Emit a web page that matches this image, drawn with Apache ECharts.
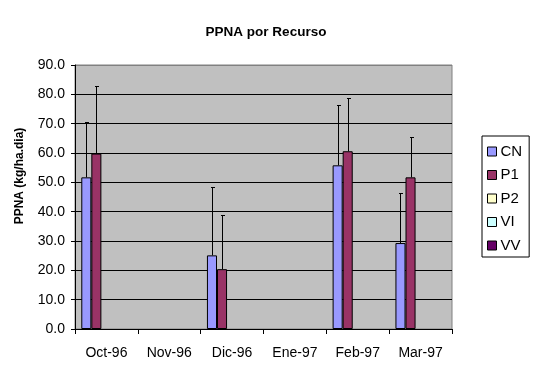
<!DOCTYPE html>
<html><head><meta charset="utf-8">
<script src="https://cdn.jsdelivr.net/npm/echarts@6/dist/echarts.min.js"></script>
<style>html,body{margin:0;padding:0;background:#fff}#c{width:534px;height:374px}</style>
</head><body><div id="c"></div>
<script>
const categories = ['Oct-96','Nov-96','Dic-96','Ene-97','Feb-97','Mar-97'];
const seriesNames = ['CN','P1','P2','VI','VV'];
const cnValues = [51.7, null, 25.1, null, 55.8, 29.3];
const p1Values = [59.8, null, 20.4, null, 60.6, 51.7];
const p2Values = [null, null, null, null, null, null];
const viValues = [null, null, null, null, null, null];
const vvValues = [null, null, null, null, null, null];
const cnErrors = [18.8, null, 23.2, null, 20.6, 17.0];
const p1Errors = [22.9, null, 18.4, null, 18.0, 13.7];
const yTicks = ['0.0','10.0','20.0','30.0','40.0','50.0','60.0','70.0','80.0','90.0'];
const yAxisTitle = 'PPNA (kg/ha.dia)';
const chartTitle = 'PPNA por Recurso';

const colors = ['#9999FF','#993366','#FFFFCC','#CCFFFF','#660066'];
const allValues = [cnValues, p1Values, p2Values, viValues, vvValues];
const FONT = '"Liberation Sans", Arial, sans-serif';
const NSER = 5, CATGAP = 0.2;

function errData(vals, errs){
  const out = [];
  vals.forEach((v,i)=>{ if(v!=null && errs[i]!=null) out.push([i, v, errs[i]]); });
  return out;
}
function errSeries(k, vals, errs){
  return {
    type:'custom', name:'err'+k, silent:true, z:5,
    data: errData(vals, errs),
    encode:{x:0, y:1},
    renderItem:function(params, api){
      const i = api.value(0), v = api.value(1), e = api.value(2);
      const band = api.size([1,0])[0];
      const bw = band*(1-CATGAP)/NSER;
      const cx = api.coord([i,0])[0] - band*(1-CATGAP)/2 + bw*(k+0.5);
      const x = Math.round(cx)+0.5;
      const y0 = api.coord([i,v])[1];
      const y1 = Math.round(api.coord([i,v+e])[1])+0.5;
      return {type:'group', children:[
        {type:'line', shape:{x1:x,y1:y0,x2:x,y2:y1}, style:{stroke:'#000',lineWidth:1}},
        {type:'line', shape:{x1:x-1.5,y1:y1,x2:x+2.5,y2:y1}, style:{stroke:'#000',lineWidth:1}}
      ]};
    }
  };
}

const splitColors = yTicks.map((t,i)=> i===yTicks.length-1 ? '#808080' : '#000');

const series = seriesNames.map((n,k)=>({
  type:'bar', name:n, data: allValues[k],
  barGap:'0%', barCategoryGap:(CATGAP*100)+'%',
  itemStyle:{color:colors[k], borderColor:'#000', borderWidth:1},
  z:3
}));
series.push(errSeries(0, cnValues, cnErrors));
series.push(errSeries(1, p1Values, p1Errors));

const chart = echarts.init(document.getElementById('c'), null, {renderer:'canvas'});
chart.setOption({
  animation:false,
  textStyle:{fontFamily:FONT, color:'#000'},
  title:{text:chartTitle, left:261, top:20, textAlign:'center',
    textStyle:{fontFamily:FONT, fontSize:13.5, fontWeight:'bold', color:'#000'}},
  graphic:[{type:'text', x:20, y:176, rotation:Math.PI/2,
    style:{text:yAxisTitle, align:'center', verticalAlign:'middle',
      font:'bold 12px "Liberation Sans", Arial, sans-serif', fill:'#000'}}],
  grid:{left:75, top:65, right:82, bottom:45, show:true, backgroundColor:'#C0C0C0',
    borderColor:'#808080', borderWidth:1},
  legend:{orient:'vertical', left:482, top:136, data:seriesNames,
    padding:[8,7,4,5], itemGap:8.5, itemWidth:9, itemHeight:9, icon:'rect',
    borderColor:'#000', borderWidth:1, itemStyle:{borderColor:'#000', borderWidth:1},
    textStyle:{fontFamily:FONT, fontSize:15, lineHeight:15, color:'#000', padding:[0,0,0,-1]}},
  xAxis:{type:'category', data:categories,
    axisLine:{lineStyle:{color:'#000', width:1}},
    axisTick:{show:true, length:5, lineStyle:{color:'#000'}},
    axisLabel:{fontFamily:FONT, fontSize:14, color:'#000', margin:17, interval:0},
    splitLine:{show:false}},
  yAxis:{type:'value', min:0, max:90, interval:10,
    axisLine:{show:true, lineStyle:{color:'#000', width:1}},
    axisTick:{show:true, length:4, lineStyle:{color:'#000'}},
    axisLabel:{fontFamily:FONT, fontSize:14, color:'#000', margin:10,
      formatter:function(v){ return yTicks[Math.round(v/10)]; }},
    splitLine:{show:true, lineStyle:{color:splitColors, width:1}}},
  series:series
});
</script></body></html>
